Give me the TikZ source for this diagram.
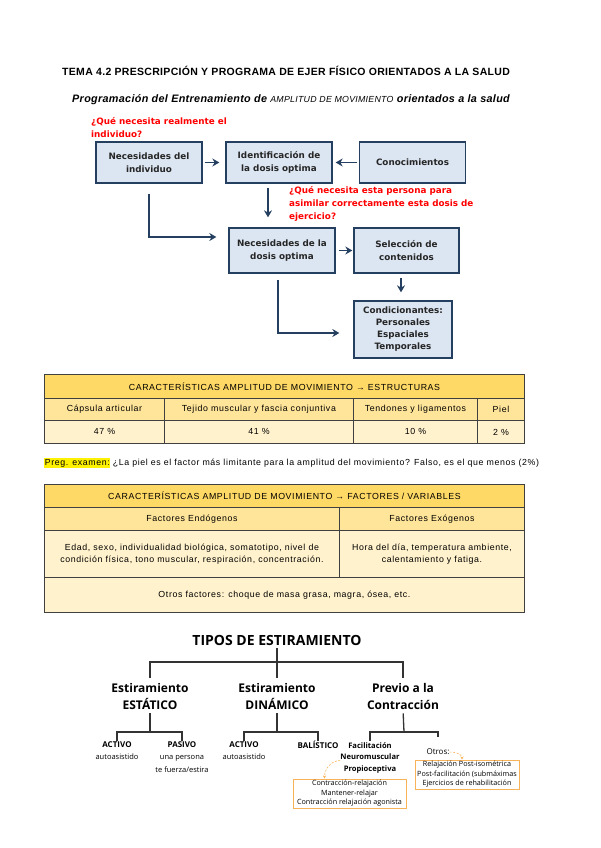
\documentclass[tikz,border=0pt]{standalone}
\usepackage{fontspec}
\setmainfont{Liberation Sans}
\newfontfamily\verd{DejaVu Sans}
\newfontfamily\opens{Open Sans}
\newfontfamily\tabf[LetterSpace=7]{Liberation Sans}
\newfontfamily\titf[LetterSpace=3]{Liberation Sans}
\usetikzlibrary{arrows.meta, positioning, calc}

\definecolor{boxblue}{HTML}{DCE6F2}
\definecolor{navy}{HTML}{243F60}
\definecolor{qred}{HTML}{FF0000}
\definecolor{gold}{HTML}{FFD966}
\definecolor{goldlt}{HTML}{FFE599}
\definecolor{cream}{HTML}{FFF2CC}
\definecolor{rulegray}{HTML}{404040}
\definecolor{orng}{HTML}{F8B35A}

\tikzset{
  flowbox/.style={draw=navy, line width=1.3pt, fill=boxblue, align=center,
    font=\verd\bfseries\fontsize{8.8}{12.5}\selectfont, text=black!85,
    minimum width=106pt, minimum height=41pt, inner sep=2pt},
  flowarrow/.style={draw=navy, line width=1.7pt, -{Stealth[length=7pt,width=8pt]}},
  qtext/.style={text=qred, font=\verd\bfseries\fontsize{8.8}{13}\selectfont,
    align=left, inner sep=0pt, anchor=north west},
  cell/.style={draw=rulegray, line width=0.9pt, anchor=north west, inner sep=0pt,
    align=center, font=\tabf\fontsize{8.8}{12}\selectfont},
  treeline/.style={draw=black!80, line width=1.3pt},
  leaf/.style={font=\opens\fontsize{7.5}{12.5}\selectfont, align=center, inner sep=0pt, anchor=north},
  orbox/.style={draw=orng, line width=1pt, align=center, inner sep=0pt,
    font=\opens\fontsize{7.2}{9.5}\selectfont},
  orarrow/.style={draw=orng, line width=0.6pt, dash pattern=on 2pt off 1.5pt,
    -{Stealth[length=3pt,width=3pt]}}
}

\begin{document}
\begin{tikzpicture}[x=1pt, y=-1pt]
\useasboundingbox (0,0) rectangle (600,848);

% Titles
\node (tema) [anchor=west, inner sep=0pt, font=\titf\bfseries\fontsize{10.5}{12}\selectfont]
  at (62,71) {TEMA 4.2 PRESCRIPCIÓN Y PROGRAMA DE EJER FÍSICO ORIENTADOS A LA SALUD};
\node (subt) [anchor=west, inner sep=0pt, font=\titf\bfseries\itshape\fontsize{10.8}{12}\selectfont]
  at (72,100) {Programación del Entrenamiento de {\mdseries\fontsize{8.8}{10}\selectfont AMPLITUD DE MOVIMIENTO} orientados a la salud};

% Flow boxes
\node (nind) [flowbox] at (149,162.5) {Necesidades del\\individuo};
\node (idos) [flowbox] at (279,162.5) {Identificación de\\la dosis optima};
\node (conoc) [flowbox] at (412.5,162.5) {Conocimientos};
\node (ndos) [flowbox, minimum height=45pt] at (282,250.5) {Necesidades de la\\dosis optima};
\node (selc) [flowbox, minimum width=105pt, minimum height=45pt] at (406.5,250.5) {Selección de\\contenidos};
\node (cond) [flowbox, minimum width=98pt, minimum height=57pt, font=\verd\bfseries\fontsize{8.8}{12}\selectfont]
  at (403,329.5) {Condicionantes:\\Personales\\Espaciales\\Temporales};

% Questions
\node (q1) [qtext] at (91,117) {¿Qué necesita realmente el\\individuo?};
\node (q2) [qtext] at (289,186) {¿Qué necesita esta persona para\\asimilar correctamente esta dosis de\\ejercicio?};

% Arrows
\draw[flowarrow, shorten <=2pt, shorten >=6pt] (nind) -- (idos);
\draw[flowarrow, shorten <=2pt, shorten >=3pt] (conoc) -- (idos);
\draw[flowarrow, shorten <=4pt, shorten >=10pt] ([xshift=-11pt]idos.south) -- ([xshift=-11pt]idos.south |- ndos.north);
\draw[flowarrow, shorten <=10pt, shorten >=12pt] (nind.south) |- ([yshift=13.5pt]ndos.west);
\draw[flowarrow, shorten <=3pt, shorten >=1pt] (ndos) -- (selc);
\draw[flowarrow, shorten <=4pt, shorten >=8pt] ([xshift=-5.5pt]selc.south) -- ([xshift=-5.5pt]selc.south |- cond.north);
\draw[flowarrow, shorten <=6pt, shorten >=14pt] ([xshift=-4pt]ndos.south) |- ([yshift=-3.5pt]cond.west);

% Table 1: estructuras
\node (t1h) [cell, fill=gold, minimum width=480pt, minimum height=24pt] at (44,374)
  {CARACTERÍSTICAS AMPLITUD DE MOVIMIENTO → ESTRUCTURAS};
\node (t1a) [cell, fill=goldlt, minimum width=120pt, minimum height=22pt] at (44,398) {Cápsula articular};
\node (t1b) [cell, fill=goldlt, minimum width=189pt, minimum height=22pt] at (164,398) {Tejido muscular y fascia conjuntiva};
\node (t1c) [cell, fill=goldlt, minimum width=124pt, minimum height=22pt] at (353,398) {Tendones y ligamentos};
\node (t1d) [cell, fill=goldlt, minimum width=47pt, minimum height=22pt] at (477,398) {Piel};
\node (t1e) [cell, fill=cream, minimum width=120pt, minimum height=23pt] at (44,420) {47 \%};
\node (t1f) [cell, fill=cream, minimum width=189pt, minimum height=23pt] at (164,420) {41 \%};
\node (t1g) [cell, fill=cream, minimum width=124pt, minimum height=23pt] at (353,420) {10 \%};
\node (t1k) [cell, fill=cream, minimum width=47pt, minimum height=23pt] at (477,420) {2 \%};

% Exam question
\node (preg) [fill=yellow, inner sep=0.6pt, anchor=west, font=\tabf\fontsize{8.8}{10}\selectfont] at (44,463) {Preg. examen:};
\node (pregq) [right=2pt of preg, inner sep=0pt, font=\tabf\fontsize{8.8}{10}\selectfont]
  {¿La piel es el factor más limitante para la amplitud del movimiento? Falso, es el que menos (2\%)};

% Table 2: factores
\node (t2h) [cell, fill=gold, minimum width=480pt, minimum height=23pt] at (44,484)
  {CARACTERÍSTICAS AMPLITUD DE MOVIMIENTO → FACTORES / VARIABLES};
\node (t2a) [cell, fill=goldlt, minimum width=295pt, minimum height=23pt] at (44,507) {Factores Endógenos};
\node (t2b) [cell, fill=goldlt, minimum width=185pt, minimum height=23pt] at (339,507) {Factores Exógenos};
\node (t2c) [cell, fill=cream, minimum width=295pt, minimum height=47pt] at (44,530)
  {Edad, sexo, individualidad biológica, somatotipo, nivel de\\condición física, tono muscular, respiración, concentración.};
\node (t2d) [cell, fill=cream, minimum width=185pt, minimum height=47pt] at (339,530)
  {Hora del día, temperatura ambiente,\\calentamiento y fatiga.};
\node (t2e) [cell, fill=cream, minimum width=480pt, minimum height=35pt] at (44,577)
  {Otros factores: choque de masa grasa, magra, ósea, etc.};

% Tree of stretching types
\node (tipos) [font=\opens\bfseries\fontsize{14}{16}\selectfont, inner sep=0pt] at (277,640) {TIPOS DE ESTIRAMIENTO};
\node (est) [font=\opens\bfseries\fontsize{12}{17}\selectfont, align=center, inner sep=0pt] at (150,696) {Estiramiento\\ESTÁTICO};
\node (din) [font=\opens\bfseries\fontsize{12}{17}\selectfont, align=center, inner sep=0pt] at (277,696) {Estiramiento\\DINÁMICO};
\node (prev) [font=\opens\bfseries\fontsize{12}{17}\selectfont, align=center, inner sep=0pt] at (403,696) {Previo a la\\Contracción};
\coordinate (hub) at (277,662);
\draw[treeline, shorten <=3pt] (tipos.south) -- (hub);
\draw[treeline, shorten <=5pt] (est.north) |- (hub);
\draw[treeline, shorten <=5pt] (prev.north) |- (hub);
\draw[treeline, shorten >=5pt] (hub) -- (din.north);

\node (act1) [leaf] at (117,741) {{\bfseries\fontsize{8}{12.5}\selectfont ACTIVO}\\autoasistido};
\node (pas) [leaf] at (182,741) {{\bfseries\fontsize{8}{12.5}\selectfont PASIVO}\\una persona\\te fuerza/estira};
\node (act2) [leaf] at (244,741) {{\bfseries\fontsize{8}{12.5}\selectfont ACTIVO}\\autoasistido};
\node (bal) [leaf] at (318,741) {{\bfseries\fontsize{8}{12.5}\selectfont BALÍSTICO}};
\node (facil) [leaf, font=\opens\bfseries\fontsize{7.6}{11.5}\selectfont] at (370,742) {Facilitación\\Neuromuscular\\Propioceptiva};
\node (otros) [font=\opens\fontsize{8}{9}\selectfont, inner sep=0pt] at (438,752) {Otros:};

\coordinate (estj) at (150,732);
\coordinate (dinj) at (277,732);
\coordinate (prevj) at (404,732);
\draw[treeline, shorten <=4pt] (est.south) -- (estj);
\draw[treeline] (act1.north) |- (estj) -| (pas.north);
\draw[treeline, shorten <=4pt] (din.south) -- (dinj);
\draw[treeline] (act2.north) |- (dinj) -| (bal.north);
\draw[treeline, shorten <=4pt] (prev.south) -- (prevj);
\draw[treeline] ([yshift=1pt]facil.north) |- (prevj) -| ([yshift=12pt]otros.north);

% Orange boxes
\node (obox1) [orbox, minimum width=113pt, minimum height=29pt] at (349.5,793.5)
  {Contracción-relajación\\Mantener-relajar\\Contracción relajación agonista};
\node (obox2) [orbox, minimum width=104pt, minimum height=29pt] at (467,774.5)
  {Relajación Post-isométrica\\Post-facilitación (submáximas\\Ejercicios de rehabilitación};
\draw[orarrow] (otros.east) to[out=0, in=90] ([xshift=-5pt]obox2.north);
\draw[orarrow] ([yshift=-3pt]facil.west) to[out=180, in=90] ([xshift=-25pt]obox1.north);
\end{tikzpicture}
\end{document}
